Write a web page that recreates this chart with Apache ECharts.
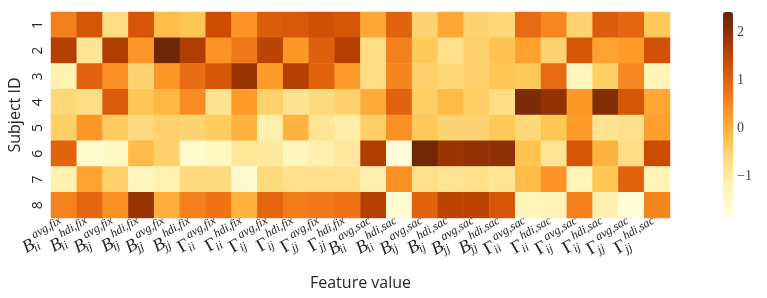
<!DOCTYPE html>
<html>
<head>
<meta charset="utf-8">
<script src="https://cdn.jsdelivr.net/npm/echarts@6/dist/echarts.min.js"></script>
<style>
  html, body { margin: 0; padding: 0; background: #fff; }
  #chart { width: 767px; height: 298px; }
</style>
</head>
<body>
<div id="chart"></div>
<script>
const chart = echarts.init(document.getElementById("chart"));

// feature labels: symbol | subscript | superscript
const featureSymbols = ["B", "B", "B", "B", "B", "B", "Γ", "Γ", "Γ", "Γ", "Γ", "Γ",
                        "B", "B", "B", "B", "B", "B", "Γ", "Γ", "Γ", "Γ", "Γ", "Γ"];
const featureSubs = ["ii", "ii", "ij", "ij", "jj", "jj", "ii", "ii", "ij", "ij", "jj", "jj",
                     "ii", "ii", "ij", "ij", "jj", "jj", "ii", "ii", "ij", "ij", "jj", "jj"];
const featureSups = ["avg,fix", "hdi,fix", "avg,fix", "hdi,fix", "avg,fix", "hdi,fix",
                     "avg,fix", "hdi,fix", "avg,fix", "hdi,fix", "avg,fix", "hdi,fix",
                     "avg,sac", "hdi,sac", "avg,sac", "hdi,sac", "avg,sac", "hdi,sac",
                     "avg,sac", "hdi,sac", "avg,sac", "hdi,sac", "avg,sac", "hdi,sac"];
const subjects = ["1", "2", "3", "4", "5", "6", "7", "8"];
const colorbarTicks = [-1, 0, 1, 2];

const subject1 = [0.6, 1.2, -0.7, 1.2, -0.2, -0.3, 1.35, 0.35, 1.1, 1.15, 1.3, 1.2, 0.1, 1.0, -0.55, 0.1, -0.55, -0.6, 0.9, 0.5, -0.55, 1.1, 0.95, -0.35];
const subject2 = [1.6, -0.85, 1.65, 0.3, 2.35, 1.65, 0.35, 0.7, 1.5, 0.3, 1.05, 1.6, -0.7, 0.6, -0.35, -0.75, -0.5, -0.25, 0.2, -0.55, 1.2, 0.15, 0.25, 1.25];
const subject3 = [-1.2, 1.0, 0.4, -0.55, 0.3, 0.85, 1.2, 1.85, 0.25, 1.6, 1.0, 0.25, -0.7, 0.55, -0.5, -0.6, -0.5, -0.3, -0.35, 0.9, -1.35, -0.45, 0.5, -1.3];
const subject4 = [-0.6, -0.7, 1.1, -0.3, -0.1, 0.45, -0.8, 0.25, -0.5, -0.8, -0.65, -0.5, 0.05, 1.0, -0.45, -0.15, -0.45, -0.7, 2.2, 1.95, 0.3, 2.1, 1.2, 0.1];
const subject5 = [-0.45, 0.3, -0.4, -0.65, -0.5, -0.55, -0.4, -0.05, -1.15, -0.05, -0.85, -1.1, -0.45, 0.4, -0.35, -0.55, -0.55, -0.35, -0.6, -0.3, 0.25, -0.8, -0.75, 0.2];
const subject6 = [1.0, -1.55, -1.45, -0.15, -0.5, -1.55, -1.4, -0.9, -0.95, -1.35, -1.15, -0.95, 1.65, -1.75, 2.3, 1.85, 1.95, 2.0, -0.25, -0.85, 1.2, -0.05, -0.7, 1.35];
const subject7 = [-1.2, 0.15, -0.5, -1.35, -1.2, -0.65, -0.65, -1.6, -0.65, -0.75, -0.75, -0.75, -1.15, 0.4, -0.75, -0.85, -0.75, -0.85, -0.15, 0.35, -1.3, -0.3, 1.0, -1.25];
const subject8 = [0.55, 0.95, 0.4, 1.85, 0.0, 0.6, 0.75, -0.05, 0.95, 0.65, 0.7, 0.75, 1.6, -1.65, 1.0, 1.5, 1.5, 1.2, -1.3, -1.25, 0.6, -1.15, -1.7, 0.55];

const rows = [subject1, subject2, subject3, subject4, subject5, subject6, subject7, subject8];
const features = featureSymbols.map((s, i) => s + "|" + featureSubs[i] + "|" + featureSups[i]);
const cells = [];
rows.forEach((row, y) => row.forEach((v, x) => cells.push([x, y, v])));

const serif = "'Liberation Serif', 'DejaVu Serif', serif";
const sans = "'Open Sans', 'DejaVu Sans', sans-serif";
const ink = "#262626";

chart.setOption({
  animation: false,
  grid: [
    { left: 51, right: 97, top: 12, bottom: 80, outerBoundsMode: "none" },
    { left: 723, width: 10, top: 12, height: 206, outerBoundsMode: "none" },
  ],
  xAxis: [
    {
      type: "category",
      data: features,
      gridIndex: 0,
      axisLine: { show: false },
      axisTick: { show: false },
      splitLine: { show: false },
      axisLabel: {
        interval: 0,
        rotate: 30,
        margin: 8,
        formatter: (v) => {
          const p = v.split("|");
          return "{" + (p[0] === "B" ? "b" : "g") + "|" + p[0] + "}{sub|" + p[1] + "}{sup|" + p[2] + "}";
        },
        rich: {
          b: { fontFamily: serif, fontStyle: "italic", fontSize: 18, color: ink, lineHeight: 26, verticalAlign: "middle" },
          g: { fontFamily: serif, fontSize: 18, color: ink, lineHeight: 26, verticalAlign: "middle" },
          sub: {
            fontFamily: serif, fontStyle: "italic", fontSize: 12, color: ink, lineHeight: 26,
            verticalAlign: "bottom", padding: [0, 0, 2, 1], width: 1, align: "left",
          },
          sup: { fontFamily: serif, fontStyle: "italic", fontSize: 12, color: ink, lineHeight: 26, verticalAlign: "top", padding: [0, 0, 0, 1] },
        },
      },
      name: "Feature value",
      nameLocation: "middle",
      nameGap: 57,
      nameTextStyle: { fontFamily: sans, fontSize: 16, color: ink },
    },
    { type: "value", gridIndex: 1, show: false },
  ],
  yAxis: [
    {
      type: "category",
      data: subjects,
      inverse: true,
      gridIndex: 0,
      axisLine: { show: false },
      axisTick: { show: false },
      axisLabel: { rotate: 90, fontFamily: sans, fontSize: 14, color: ink, margin: 6 },
      name: "Subject ID",
      nameLocation: "middle",
      nameGap: 23,
      nameTextStyle: { fontFamily: sans, fontSize: 16, color: ink },
    },
    {
      type: "value",
      gridIndex: 1,
      min: -1.88,
      max: 2.42,
      position: "right",
      axisLine: { show: false },
      splitLine: { show: false },
      axisTick: { show: true, length: 4, customValues: colorbarTicks, lineStyle: { color: ink } },
      axisLabel: {
        customValues: colorbarTicks,
        margin: 4,
        fontFamily: serif,
        fontSize: 14,
        color: "#444",
        formatter: (v) => (v < 0 ? "\u2212" + Math.abs(v) : String(v)),
      },
    },
  ],
  visualMap: {
    type: "continuous",
    min: -1.88,
    max: 2.42,
    seriesIndex: 0,
    calculable: false,
    left: 723,
    top: 12,
    itemWidth: 10,
    itemHeight: 206,
    padding: 0,
    text: null,
    inRange: {
      color: ["#ffffe5", "#fff7bc", "#fee391", "#fec44f", "#fe9929", "#ec7014", "#cc4c02", "#993404", "#662506"],
    },
  },
  series: [
    {
      type: "heatmap",
      xAxisIndex: 0,
      yAxisIndex: 0,
      data: cells,
      emphasis: { disabled: true },
    },
  ],
});
</script>
</body>
</html>
